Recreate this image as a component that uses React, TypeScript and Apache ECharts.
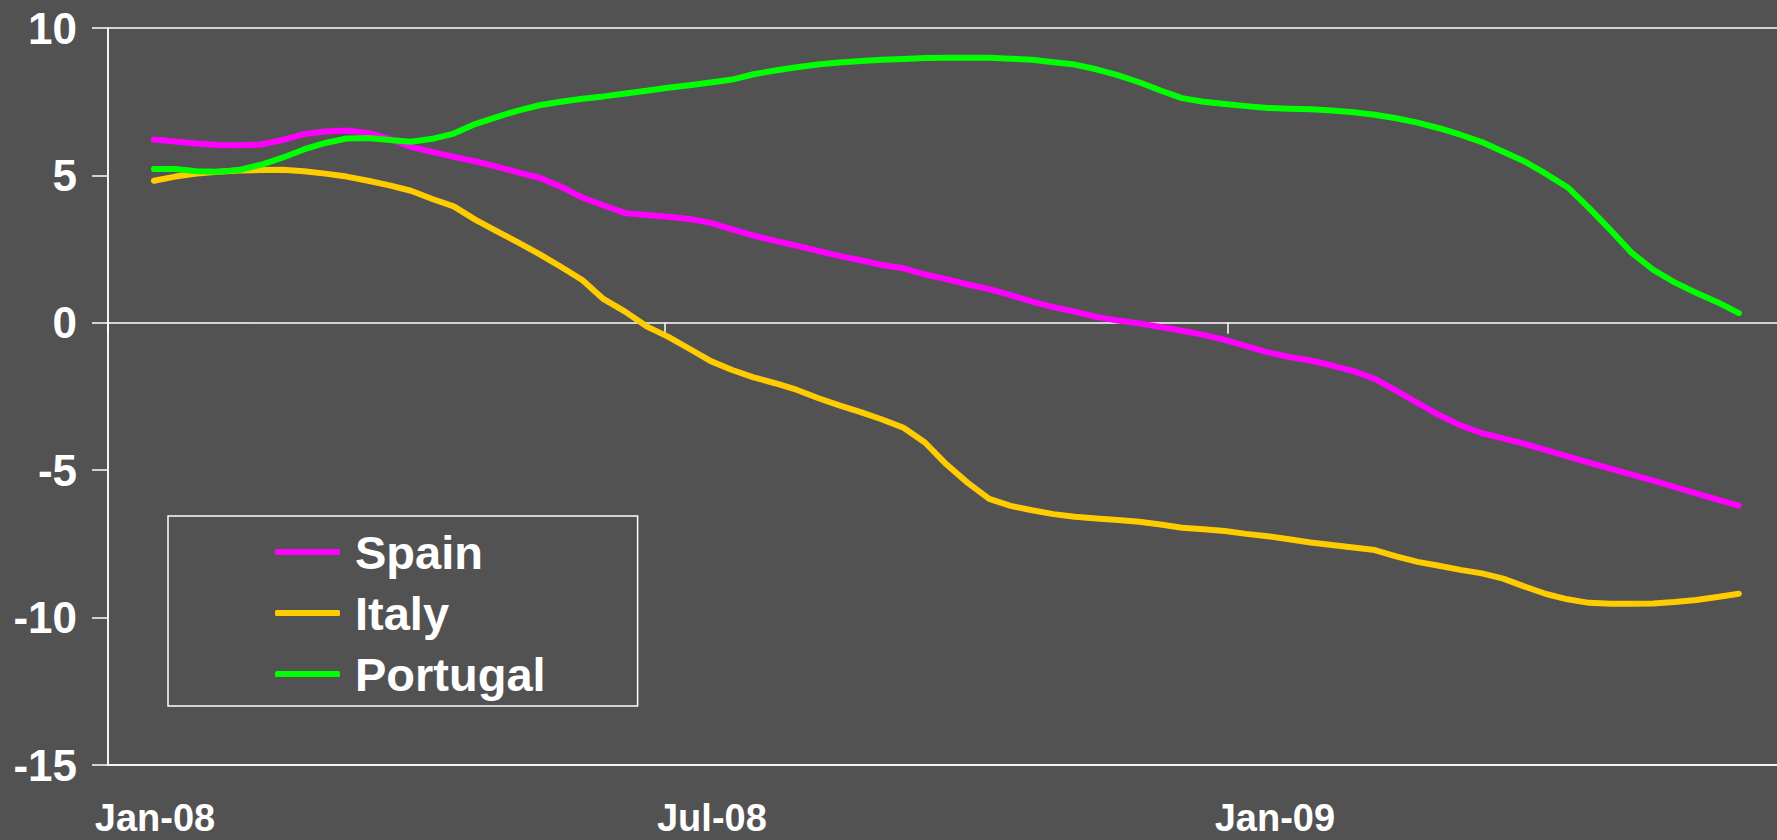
import React, { useEffect, useRef } from "react";
import * as echarts from "echarts";

const DAY = 86400000;
const axisOrigin = new Date(2008, 0, 1).getTime();

// Weekly observations, first one on 16 Jan 2008
const firstObs = [2008, 0, 16];
const obsCount = 75;
const weeks: number[] = Array.from({ length: obsCount }, (_, i) =>
  new Date(firstObs[0], firstObs[1], firstObs[2] + 7 * i).getTime()
);

const spain = [
  6.22, 6.15, 6.08, 6.03, 6.02, 6.05, 6.2, 6.4, 6.49, 6.52,
  6.44, 6.24, 5.97, 5.8, 5.63, 5.48, 5.3, 5.1, 4.92, 4.62,
  4.25, 3.98, 3.72, 3.66, 3.6, 3.52, 3.39, 3.17, 2.96, 2.78,
  2.62, 2.44, 2.27, 2.12, 1.96, 1.85, 1.64, 1.48, 1.3, 1.14,
  0.94, 0.72, 0.53, 0.38, 0.2, 0.08, -0.02, -0.14, -0.27, -0.41,
  -0.58, -0.79, -1.0, -1.16, -1.28, -1.45, -1.64, -1.9, -2.3, -2.72,
  -3.13, -3.48, -3.74, -3.92, -4.11, -4.32, -4.53, -4.74, -4.95, -5.15,
  -5.35, -5.57, -5.79, -6.0, -6.2,
];

const italy = [
  4.82, 4.96, 5.06, 5.12, 5.17, 5.18, 5.19, 5.14, 5.06, 4.96,
  4.82, 4.66, 4.48, 4.2, 3.95, 3.5, 3.11, 2.73, 2.33, 1.9,
  1.45, 0.8, 0.38, -0.12, -0.47, -0.88, -1.3, -1.6, -1.85, -2.05,
  -2.27, -2.55, -2.8, -3.03, -3.28, -3.56, -4.06, -4.8, -5.43, -5.97,
  -6.21, -6.36, -6.49, -6.58, -6.64, -6.69, -6.75, -6.84, -6.95, -7.0,
  -7.06, -7.16, -7.24, -7.34, -7.45, -7.54, -7.62, -7.71, -7.92, -8.11,
  -8.24, -8.38, -8.5, -8.68, -8.95, -9.2, -9.38, -9.5, -9.53, -9.53,
  -9.52, -9.47, -9.4, -9.3, -9.19,
];

const portugal = [
  5.22, 5.22, 5.14, 5.12, 5.19, 5.36, 5.6, 5.88, 6.1, 6.25,
  6.27, 6.2, 6.14, 6.24, 6.42, 6.74, 6.98, 7.2, 7.38, 7.5,
  7.6, 7.68, 7.78, 7.87, 7.97, 8.06, 8.15, 8.25, 8.43, 8.56,
  8.67, 8.76, 8.83, 8.88, 8.92, 8.95, 8.98, 8.99, 8.99, 8.99,
  8.96, 8.92, 8.84, 8.76, 8.6, 8.4, 8.16, 7.88, 7.62, 7.5,
  7.42, 7.35, 7.29, 7.26, 7.24, 7.2, 7.14, 7.06, 6.94, 6.79,
  6.6, 6.38, 6.13, 5.8, 5.47, 5.05, 4.6, 3.9, 3.15, 2.37,
  1.8, 1.37, 1.02, 0.7, 0.33,
];

const seriesNames = ["Spain", "Italy", "Portugal"];
const seriesColors = ["#FF00FF", "#FFCC00", "#00FF00"];

const toDay = (t: number) => Math.round((t - axisOrigin) / DAY);
const axisEndDay = toDay(new Date(2009, 6, 6).getTime());
const xTickDays = [
  new Date(2008, 0, 1).getTime(),
  new Date(2008, 6, 1).getTime(),
  new Date(2009, 0, 1).getTime(),
].map(toDay);
const monthNames = ["Jan", "Feb", "Mar", "Apr", "May", "Jun", "Jul", "Aug", "Sep", "Oct", "Nov", "Dec"];

const FONT = "'Liberation Sans', Arial, sans-serif";
const BG = "#525252";

export default function App() {
  const ref = useRef<HTMLDivElement>(null);

  useEffect(() => {
    if (!ref.current) return;
    const chart = echarts.init(ref.current, undefined, { renderer: "svg" });
    const fmt = (v: number) => {
      const d = new Date(axisOrigin + v * DAY + DAY / 2);
      return monthNames[d.getMonth()] + "-" + String(d.getFullYear()).slice(2);
    };
    const data = [spain, italy, portugal];
    chart.setOption({
      animation: false,
      backgroundColor: BG,
      grid: {
        left: 108,
        top: 28,
        bottom: 75,
        right: -20,
        show: true,
        borderColor: "#FFFFFF",
        borderWidth: 1.5,
        backgroundColor: "transparent",
        outerBoundsMode: "none",
        containLabel: false,
      },
      legend: {
        orient: "vertical",
        left: 168,
        top: 516,
        padding: [11, 92, 7, 107],
        borderColor: "#FFFFFF",
        borderWidth: 1.5,
        backgroundColor: BG,
        icon: "roundRect",
        itemWidth: 65,
        itemHeight: 6,
        itemGap: 11,
        data: seriesNames,
        textStyle: {
          color: "#FFFFFF",
          fontFamily: FONT,
          fontWeight: "bold",
          fontSize: 47,
          lineHeight: 50,
          padding: [0, 0, 0, 10],
        },
      },
      xAxis: [
        {
          type: "value",
          min: 0,
          max: axisEndDay,
          position: "bottom",
          axisLine: { show: true, onZero: true, lineStyle: { color: "#FFFFFF", width: 1.5 } },
          axisTick: {
            show: true,
            inside: false,
            length: 11,
            customValues: xTickDays,
            lineStyle: { color: "#FFFFFF", width: 1.5 },
          },
          axisLabel: { show: false },
          splitLine: { show: false },
        },
        {
          type: "value",
          min: 0,
          max: axisEndDay,
          position: "bottom",
          axisLine: { show: true, onZero: false, lineStyle: { color: "#FFFFFF", width: 1.5 } },
          axisTick: { show: false },
          axisLabel: {
            show: true,
            customValues: xTickDays,
            formatter: (v: number) => fmt(v),
            color: "#FFFFFF",
            fontFamily: FONT,
            fontWeight: "bold",
            fontSize: 38,
            lineHeight: 32,
            margin: 37,
            padding: [0, 0, 0, 94],
            hideOverlap: false,
          },
          splitLine: { show: false },
        },
      ],
      yAxis: {
        type: "value",
        min: -15,
        max: 10,
        interval: 5,
        axisLine: { show: true, lineStyle: { color: "#FFFFFF", width: 1.5 } },
        axisTick: { show: true, inside: false, length: 16, lineStyle: { color: "#FFFFFF", width: 1.5 } },
        axisLabel: {
          color: "#FFFFFF",
          fontFamily: FONT,
          fontWeight: "bold",
          fontSize: 44,
          margin: 31,
        },
        splitLine: { show: false },
      },
      series: seriesNames.map((name, k) => ({
        name,
        type: "line",
        xAxisIndex: 0,
        symbol: "none",
        showSymbol: false,
        smooth: false,
        color: seriesColors[k],
        itemStyle: { color: seriesColors[k] },
        lineStyle: { color: seriesColors[k], width: 6, cap: "round", join: "round" },
        data: weeks.map((t, i) => [toDay(t), data[k][i]]),
      })),
    });
    return () => chart.dispose();
  }, []);

  return (
    <div
      ref={ref}
      style={{ position: "fixed", left: 0, top: 0, width: 1777, height: 840, background: BG }}
    />
  );
}
